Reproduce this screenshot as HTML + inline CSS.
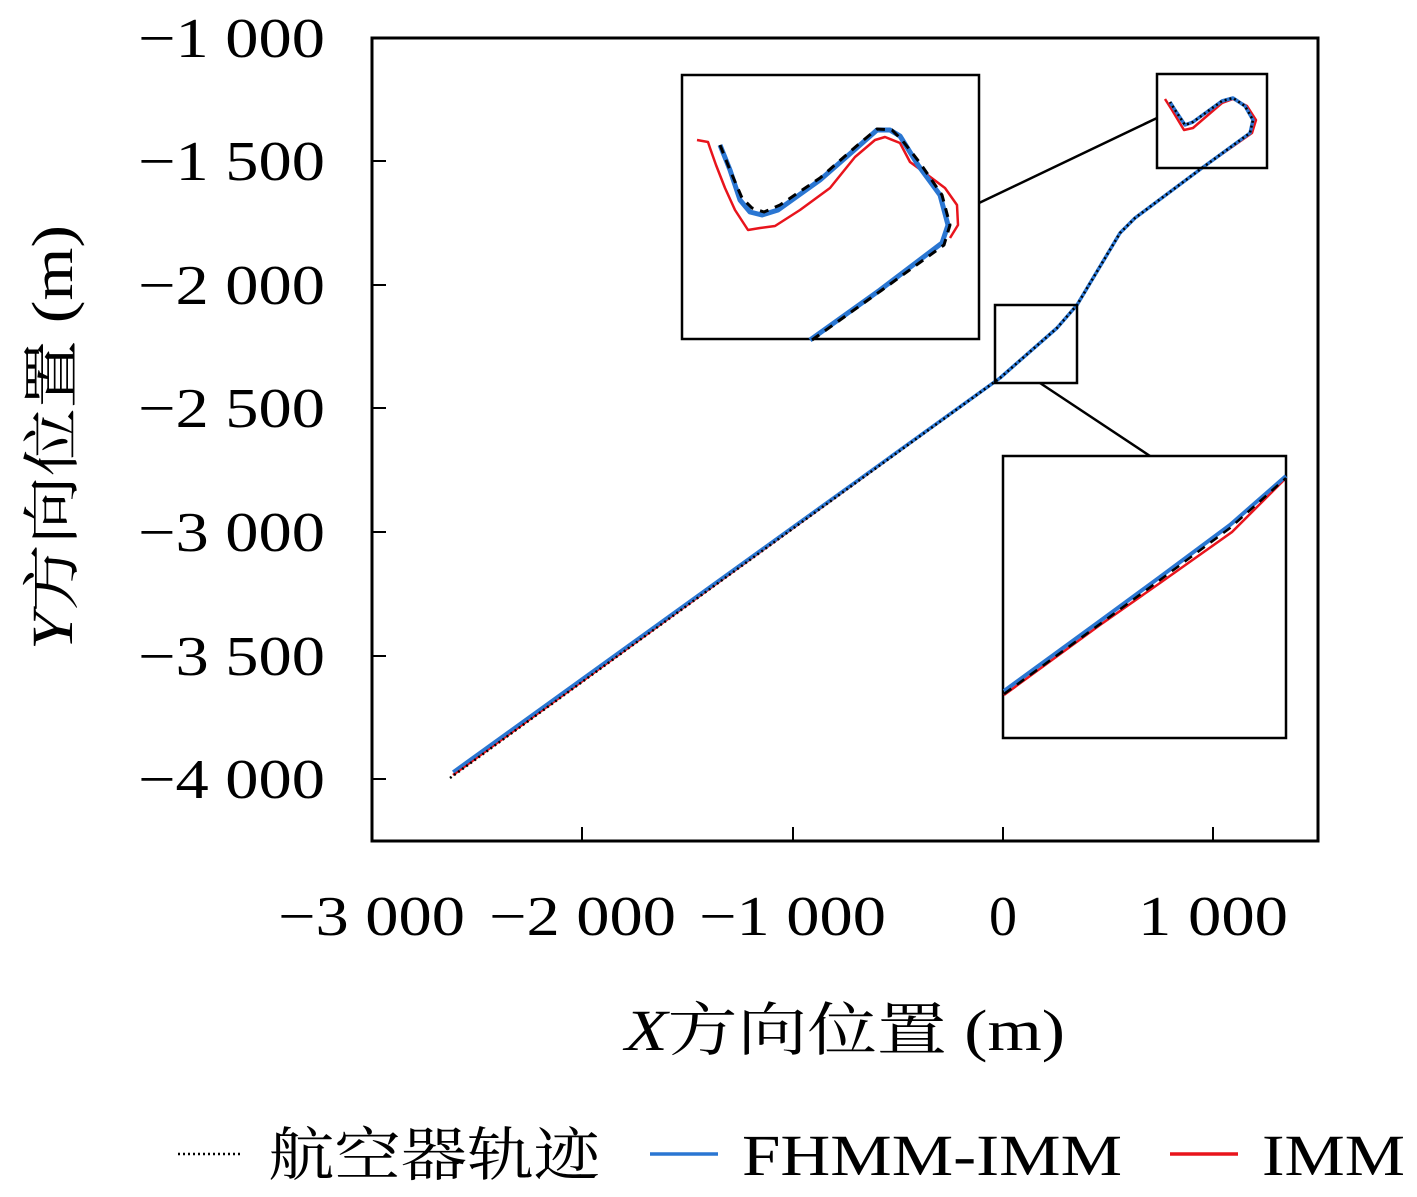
<!DOCTYPE html>
<html><head><meta charset="utf-8"><style>
html,body{margin:0;padding:0;background:#fff}
svg text{font-family:"Liberation Serif","Noto Serif CJK SC",serif;fill:#000}
</style></head><body>
<svg width="1417" height="1192" viewBox="0 0 1417 1192" xmlns="http://www.w3.org/2000/svg">
<rect x="372" y="38" width="946" height="803" fill="none" stroke="#000" stroke-width="3"/>
<g stroke="#000" stroke-width="2">
<line x1="582" y1="841" x2="582" y2="827"/><line x1="793" y1="841" x2="793" y2="827"/><line x1="1003" y1="841" x2="1003" y2="827"/><line x1="1213" y1="841" x2="1213" y2="827"/>
<line x1="372" y1="161" x2="386" y2="161"/><line x1="372" y1="285" x2="386" y2="285"/><line x1="372" y1="408" x2="386" y2="408"/><line x1="372" y1="532" x2="386" y2="532"/><line x1="372" y1="656" x2="386" y2="656"/><line x1="372" y1="779" x2="386" y2="779"/>
</g>
<g font-size="56" lengthAdjust="spacingAndGlyphs">
<text x="138" y="57" textLength="187" lengthAdjust="spacingAndGlyphs">−1 000</text>
<text x="138" y="180" textLength="187" lengthAdjust="spacingAndGlyphs">−1 500</text>
<text x="138" y="304" textLength="187" lengthAdjust="spacingAndGlyphs">−2 000</text>
<text x="138" y="427" textLength="187" lengthAdjust="spacingAndGlyphs">−2 500</text>
<text x="138" y="551" textLength="187" lengthAdjust="spacingAndGlyphs">−3 000</text>
<text x="138" y="675" textLength="187" lengthAdjust="spacingAndGlyphs">−3 500</text>
<text x="138" y="798" textLength="187" lengthAdjust="spacingAndGlyphs">−4 000</text>
</g>
<g font-size="56">
<text x="278" y="935" textLength="187" lengthAdjust="spacingAndGlyphs">−3 000</text>
<text x="489" y="935" textLength="187" lengthAdjust="spacingAndGlyphs">−2 000</text>
<text x="699" y="935" textLength="187" lengthAdjust="spacingAndGlyphs">−1 000</text>
<text x="1003" y="935" text-anchor="middle">0</text>
<text x="1138" y="935" textLength="150" lengthAdjust="spacingAndGlyphs">1 000</text>
</g>
<text x="625" y="1050" font-size="58" textLength="440" lengthAdjust="spacingAndGlyphs"><tspan font-style="italic">X</tspan>方向位置 (m)</text>
<text transform="translate(72,650) rotate(-90)" font-size="58" textLength="425" lengthAdjust="spacingAndGlyphs"><tspan font-style="italic">Y</tspan>方向位置 (m)</text>
<g fill="none" stroke-linejoin="round">
<polyline stroke="#e8141c" stroke-width="2.5" points="453,775 1000,378 1057,328 1077,305 1120,233 1135,218 1202,168 1252,133 1256,120 1247,106 1233,99 1222,103 1193,128 1184,130 1172,110 1165,99"/>
<polyline stroke="#2a76d2" stroke-width="3.5" points="453,772 1000,378 1057,328 1077,305 1120,233 1135,218 1202,168 1250,133 1253,120 1245,106 1233,98 1222,101 1193,122 1185,125 1175,110 1170,102"/>
<polyline stroke="#000" stroke-width="2.5" stroke-dasharray="2,3" points="450,778 1000,378 1057,328 1077,305 1120,233 1135,218 1202,168 1250,133 1253,120 1245,106 1233,98 1222,101 1193,122 1185,125 1175,110 1170,102"/>
</g>
<g fill="none" stroke="#000" stroke-width="2.5">
<rect x="1157" y="74" width="110" height="94"/>
<rect x="995" y="305" width="82" height="78"/>
<line x1="1157" y1="118" x2="979" y2="203"/>
<line x1="1040" y1="383" x2="1150" y2="456"/>
</g>
<rect x="682" y="75" width="297" height="264" fill="#fff" stroke="#000" stroke-width="2.5"/>
<g fill="none" stroke-linejoin="round">
<polyline stroke="#e8141c" stroke-width="2.5" points="697,140 708,142 710,148 716,165 725,188 735,210 748,230 760,228 775,226 800,210 830,188 855,157 875,140 885,137 900,143 910,162 925,173 945,188 957,205 958,225 950,238"/>
<polyline stroke="#2a76d2" stroke-width="5" points="720,145 730,170 740,200 750,212 762,215 778,210 820,180 860,145 877,130 890,130 900,136 918,165 940,195 948,225 942,243 880,290 810,340"/>
<polyline stroke="#000" stroke-width="3" stroke-dasharray="9,7" points="720,145 730,170 742,198 752,208 764,212 780,205 820,178 860,143 877,129 892,130 902,140 920,163 942,195 950,225 944,245 882,290 812,340"/>
</g>
<rect x="1003" y="456" width="283" height="282" fill="#fff" stroke="#000" stroke-width="2.5"/>
<g fill="none">
<polyline stroke="#e8141c" stroke-width="2.5" points="1004,695 1100,625 1160,583 1232,532 1286,478"/>
<polyline stroke="#2a76d2" stroke-width="4" points="1004,691 1100,621 1160,577 1230,525 1286,476"/>
<polyline stroke="#000" stroke-width="2.5" stroke-dasharray="9,7" points="1004,694 1100,624 1160,580 1230,528 1286,478"/>
</g>
<line x1="178" y1="1154" x2="243" y2="1154" stroke="#000" stroke-width="2.5" stroke-dasharray="2,3"/>
<text x="268" y="1175" font-size="58" textLength="332" lengthAdjust="spacingAndGlyphs">航空器轨迹</text>
<line x1="650" y1="1154" x2="718" y2="1154" stroke="#2a76d2" stroke-width="3.5"/>
<text x="742" y="1175" font-size="58" textLength="380" lengthAdjust="spacingAndGlyphs">FHMM-IMM</text>
<line x1="1170" y1="1154" x2="1238" y2="1154" stroke="#e8141c" stroke-width="3.5"/>
<text x="1262" y="1175" font-size="58" textLength="143" lengthAdjust="spacingAndGlyphs">IMM</text>
</svg>
</body></html>
